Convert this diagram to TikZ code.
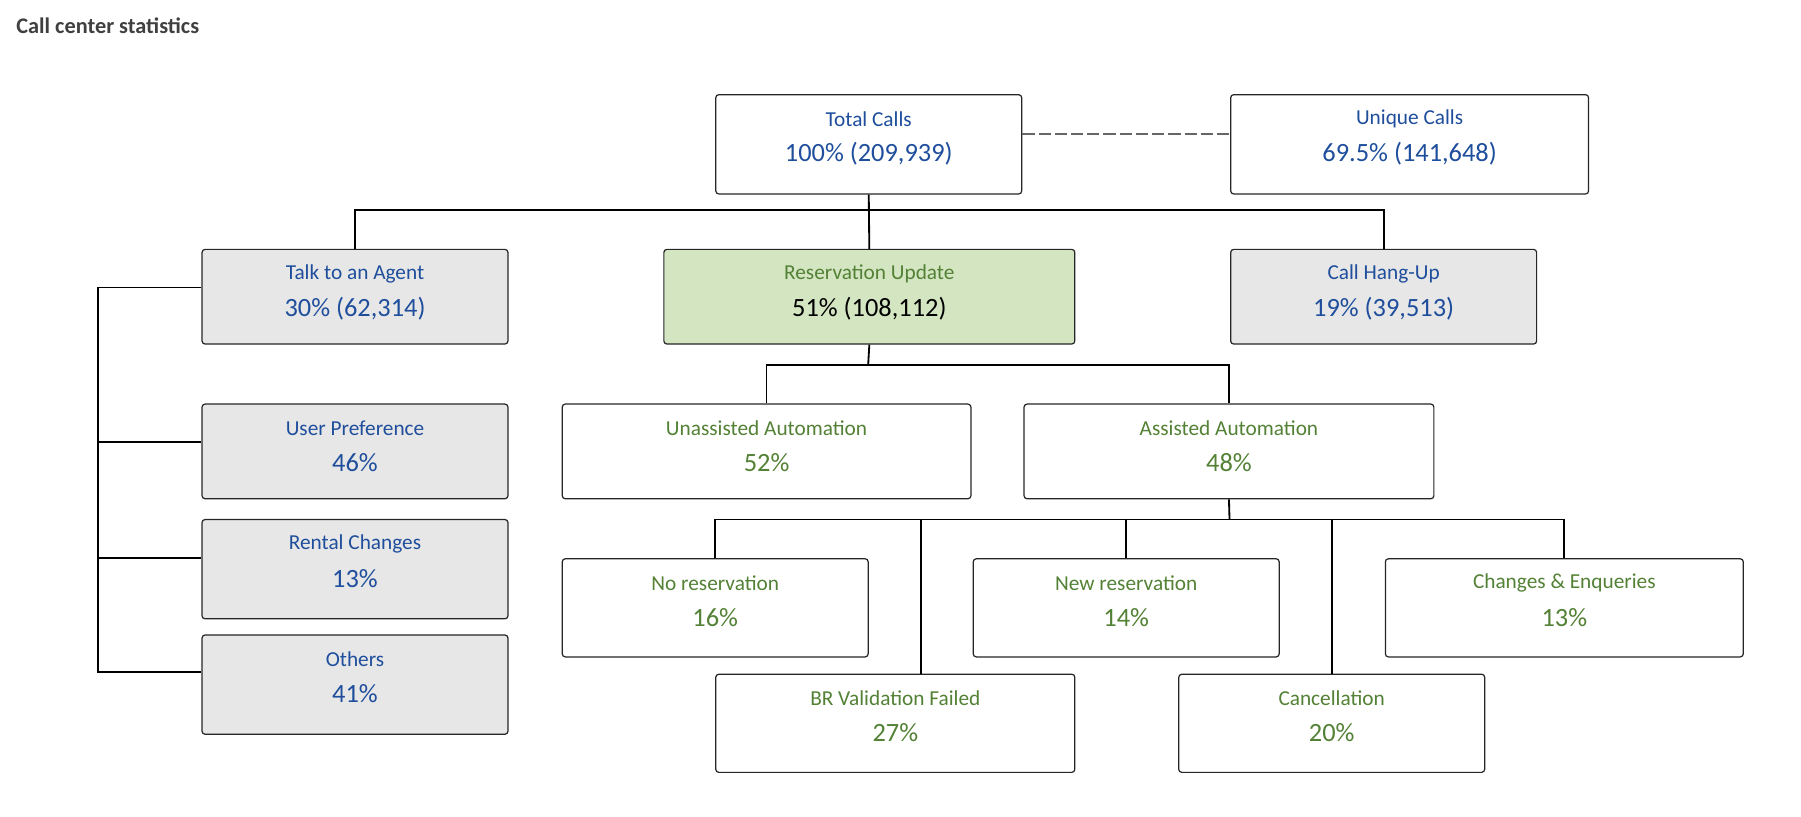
\documentclass[tikz,border=0pt]{standalone}
\usepackage{fontspec}
\setmainfont{Carlito}
\definecolor{tblue}{HTML}{1F4E9C}
\definecolor{tgreen}{HTML}{538135}
\definecolor{gfill}{HTML}{E7E7E7}
\definecolor{lgreen}{HTML}{D3E5C1}
\begin{document}
\begin{tikzpicture}[x=0.02cm,y=-0.02cm,
  bx/.style={draw=black!85,rounded corners=1.5pt,line width=0.6pt,inner sep=0},
  ln/.style={line width=0.9pt},
  t1/.style={font=\fontsize{10.5}{12}\selectfont},
  t2/.style={font=\fontsize{13}{15}\selectfont}]
\useasboundingbox (0,0) rectangle (1560,707);
\node[anchor=west,font=\bfseries\fontsize{11}{13}\selectfont,text=black!75] (title) at (8,22) {Call center statistics};
% box macro: name, x1,y1,x2,y2, fill, color1, line1, color2, line2
\newcommand{\mybox}[9]{%
  \node[bx,fill=#6,minimum width={(#4-#2)*0.02cm},minimum height={(#5-#3)*0.02cm}] (#1) at ({(#2+#4)/2},{(#3+#5)/2}) {};
  \node[t1,text=#7] (#1a) at ({(#2+#4)/2},{#3+21}) {#8};
  \node[t2,text=#7] (#1b) at ({(#2+#4)/2},{#3+51}) {#9};}
\mybox{tot}{620}{82}{885}{168}{white}{tblue}{Total Calls}{100\% (209,939)}
\mybox{uni}{1066}{82}{1376}{168}{white}{tblue}{Unique Calls}{69.5\% (141,648)}
\mybox{talk}{175}{216}{440}{298}{gfill}{tblue}{Talk to an Agent}{30\% (62,314)}
\node[bx,fill=lgreen,minimum width=7.12cm,minimum height=1.64cm] (res) at (753,257) {};
\node[t1,text=tgreen] (resa) at (753,237) {Reservation Update};
\node[t2,text=black] (resb) at (753,267) {51\% (108,112)};
\mybox{hang}{1066}{216}{1331}{298}{gfill}{tblue}{Call Hang-Up}{19\% (39,513)}
\mybox{user}{175}{350}{440}{432}{gfill}{tblue}{User Preference}{46\%}
\mybox{rent}{175}{450}{440}{536}{gfill}{tblue}{Rental Changes}{13\%}
\mybox{oth}{175}{550}{440}{636}{gfill}{tblue}{Others}{41\%}
\mybox{una}{487}{350}{841}{432}{white}{tgreen}{Unassisted Automation}{52\%}
\mybox{ass}{887}{350}{1242}{432}{white}{tgreen}{Assisted Automation}{48\%}
\mybox{nor}{487}{484}{752}{569}{white}{tgreen}{No reservation}{16\%}
\mybox{new}{843}{484}{1108}{569}{white}{tgreen}{New reservation}{14\%}
\mybox{chg}{1200}{484}{1510}{569}{white}{tgreen}{Changes \& Enqueries}{13\%}
\mybox{brv}{620}{584}{931}{669}{white}{tgreen}{BR Validation Failed}{27\%}
\mybox{can}{1021}{584}{1286}{669}{white}{tgreen}{Cancellation}{20\%}
% connectors
\draw[dashed,line width=1.2pt,black!60,dash pattern=on 6pt off 2pt] (tot.east|-0,116) -- (uni.west|-0,116);
\coordinate (b1) at (752,182);
\draw[ln] (tot.south) -- (res.north);
\draw[ln] (talk.north) |- (b1) -| (hang.north);
\coordinate (b2) at (752,316);
\draw[ln] (res.south) -- (b2);
\draw[ln] (una.north) |- (b2) -| (ass.north);
\coordinate (b3) at (1065,450);
\draw[ln] (ass.south) -- (b3);
\draw[ln] (nor.north) |- (b3) -| (chg.north);
\draw[ln] (new.north) -- (new.north|-b3);
\draw[ln] (brv.north-|798,0) -- (798,450);
\draw[ln] (can.north-|1154,0) -- (1154,450);
\coordinate (l1) at (85,249);
\coordinate (l4) at (85,582);
\draw[ln] (talk.west|-l1) -- (l1) -- (l4) -- (oth.west|-l4);
\draw[ln] (85,383) -- (user.west|-0,383);
\draw[ln] (85,483) -- (rent.west|-0,483);
\end{tikzpicture}
\end{document}
